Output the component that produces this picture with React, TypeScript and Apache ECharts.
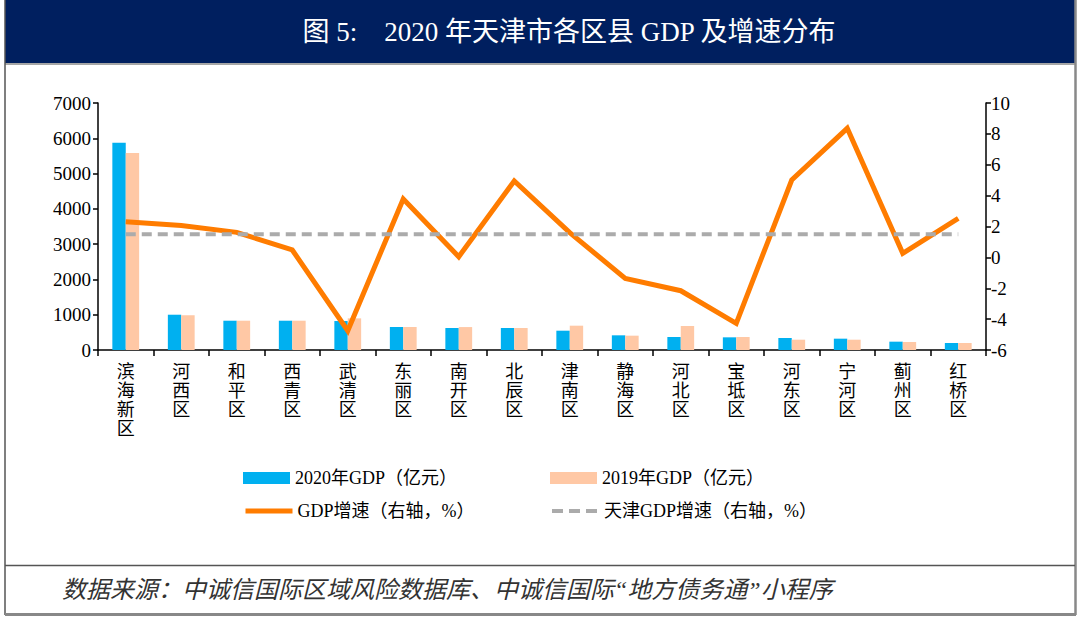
import React, { useEffect, useRef } from "react";
import * as echarts from "echarts";

const categories = ["滨海新区", "河西区", "和平区", "西青区", "武清区", "东丽区", "南开区", "北辰区", "津南区", "静海区", "河北区", "宝坻区", "河东区", "宁河区", "蓟州区", "红桥区"];
const gdp2020 = [5870, 1000, 830, 830, 821, 652, 623, 623, 547, 416, 368, 359, 340, 321, 236, 198];
const gdp2019 = [5580, 985, 830, 830, 897, 652, 650, 623, 689, 406, 680, 368, 292, 292, 226, 198];
const growth = [2.3, 2.07, 1.62, 0.48, -4.75, 3.78, 0.04, 4.95, 1.6, -1.36, -2.16, -4.27, 5.01, 8.36, 0.26, 2.53];
const tianjinGrowth = [1.5, 1.5, 1.5, 1.5, 1.5, 1.5, 1.5, 1.5, 1.5, 1.5, 1.5, 1.5, 1.5, 1.5, 1.5, 1.5];
const seriesNames = ["2020年GDP（亿元）", "2019年GDP（亿元）", "GDP增速（右轴，%）", "天津GDP增速（右轴，%）"];
const titleText = "图 5:    2020 年天津市各区县 GDP 及增速分布";
const sourceText = "数据来源：中诚信国际区域风险数据库、中诚信国际“地方债务通”小程序";

const FONT = "'Liberation Serif', 'Noto Sans CJK SC', serif";

export default function App() {
  const ref = useRef<HTMLDivElement>(null);
  useEffect(() => {
    if (!ref.current) return;
    const chart = echarts.init(ref.current, null, { renderer: "svg" });
    const legendBase = {
      itemWidth: 47,
      itemHeight: 12,
      itemGap: 5,
      padding: 0,
      textStyle: { fontFamily: FONT, fontSize: 18, color: "#000" },
      selectedMode: false,
    };
    chart.setOption({
      animation: false,
      backgroundColor: "#fff",
      textStyle: { fontFamily: FONT },
      grid: { left: 98, right: 94, top: 103, bottom: 273, containLabel: false },
      legend: [
        { ...legendBase, left: 243, top: 469, data: [{ name: seriesNames[0], icon: "rect" }] },
        { ...legendBase, left: 550, top: 469, data: [{ name: seriesNames[1], icon: "rect" }] },
        {
          ...legendBase,
          left: 243,
          top: 502,
          itemStyle: { opacity: 0 },
          lineStyle: { width: 5, color: "#FF7C00" },
          data: [seriesNames[2]],
        },
        {
          ...legendBase,
          left: 550,
          top: 502,
          itemStyle: { opacity: 0 },
          lineStyle: { width: 4, color: "#ABABAB", type: [11, 6] },
          data: [seriesNames[3]],
        },
      ],
      xAxis: {
        type: "category",
        data: categories,
        boundaryGap: true,
        axisLine: { lineStyle: { color: "#000", width: 1.5 } },
        axisTick: { show: true, length: 6, lineStyle: { color: "#000", width: 1.5 } },
        axisLabel: {
          interval: 0,
          fontFamily: FONT,
          fontSize: 18,
          lineHeight: 19,
          color: "#000",
          margin: 12,
          formatter: (v: string) => v.split("").join("\n"),
        },
      },
      yAxis: [
        {
          type: "value",
          min: 0,
          max: 7000,
          interval: 1000,
          splitLine: { show: false },
          axisLine: { show: true, lineStyle: { color: "#000", width: 1.5 } },
          axisTick: { show: true, length: 5, lineStyle: { color: "#000", width: 1.5 } },
          axisLabel: { fontFamily: FONT, fontSize: 19, color: "#000", margin: 7, formatter: (v: number) => String(v) },
        },
        {
          type: "value",
          min: -6,
          max: 10,
          interval: 2,
          position: "right",
          splitLine: { show: false },
          axisLine: { show: true, lineStyle: { color: "#000", width: 1.5 } },
          axisTick: { show: true, length: 5, lineStyle: { color: "#000", width: 1.5 } },
          axisLabel: { fontFamily: FONT, fontSize: 19, color: "#000", margin: 5, formatter: (v: number) => String(v) },
        },
      ],
      series: [
        {
          name: seriesNames[0],
          type: "bar",
          data: gdp2020,
          barWidth: 13.4,
          barGap: "0%",
          itemStyle: { color: "#00B0F0" },
        },
        {
          name: seriesNames[1],
          type: "bar",
          data: gdp2019,
          barWidth: 13.4,
          barGap: "0%",
          itemStyle: { color: "#FFC8A5" },
        },
        {
          name: seriesNames[2],
          type: "line",
          yAxisIndex: 1,
          data: growth,
          symbol: "none",
          lineStyle: { color: "#FF7C00", width: 5, join: "miter" },
          itemStyle: { color: "#FF7C00" },
        },
        {
          name: seriesNames[3],
          type: "line",
          yAxisIndex: 1,
          data: tianjinGrowth,
          symbol: "none",
          lineStyle: { color: "#ABABAB", width: 4, type: [10, 6] },
          itemStyle: { color: "#ABABAB" },
        },
      ],
      graphic: [
        { type: "rect", shape: { x: 5, y: 0, width: 1070, height: 63 }, style: { fill: "#001F5F" }, silent: true },
        { type: "line", shape: { x1: 5, y1: 64, x2: 1075, y2: 64 }, style: { stroke: "#888", lineWidth: 1.5 }, silent: true },
        { type: "line", shape: { x1: 5, y1: 0, x2: 5, y2: 615 }, style: { stroke: "#555", lineWidth: 1.5 }, silent: true },
        { type: "line", shape: { x1: 1075.5, y1: 0, x2: 1075.5, y2: 615 }, style: { stroke: "#888", lineWidth: 2.5 }, silent: true },
        { type: "line", shape: { x1: 5, y1: 565.5, x2: 1075, y2: 565.5 }, style: { stroke: "#555", lineWidth: 1.5 }, silent: true },
        { type: "line", shape: { x1: 5, y1: 614.5, x2: 1076, y2: 614.5 }, style: { stroke: "#888", lineWidth: 3 }, silent: true },
        {
          type: "text",
          x: 569,
          y: 32,
          style: {
            text: titleText,
            fill: "#fff",
            fontFamily: FONT,
            fontSize: 27,
            align: "center",
            verticalAlign: "middle",
          },
          silent: true,
        },
        {
          type: "text",
          x: 62,
          y: 590,
          style: {
            text: sourceText,
            fill: "#333",
            fontFamily: FONT,
            fontSize: 24,
            fontStyle: "italic",
            align: "left",
            verticalAlign: "middle",
          },
          silent: true,
        },
      ],
    });
    return () => chart.dispose();
  }, []);
  return (
    <div style={{ position: "absolute", left: 0, top: 0, width: 1080, height: 623 }}>
      <div ref={ref} style={{ width: 1080, height: 623 }} />
    </div>
  );
}
